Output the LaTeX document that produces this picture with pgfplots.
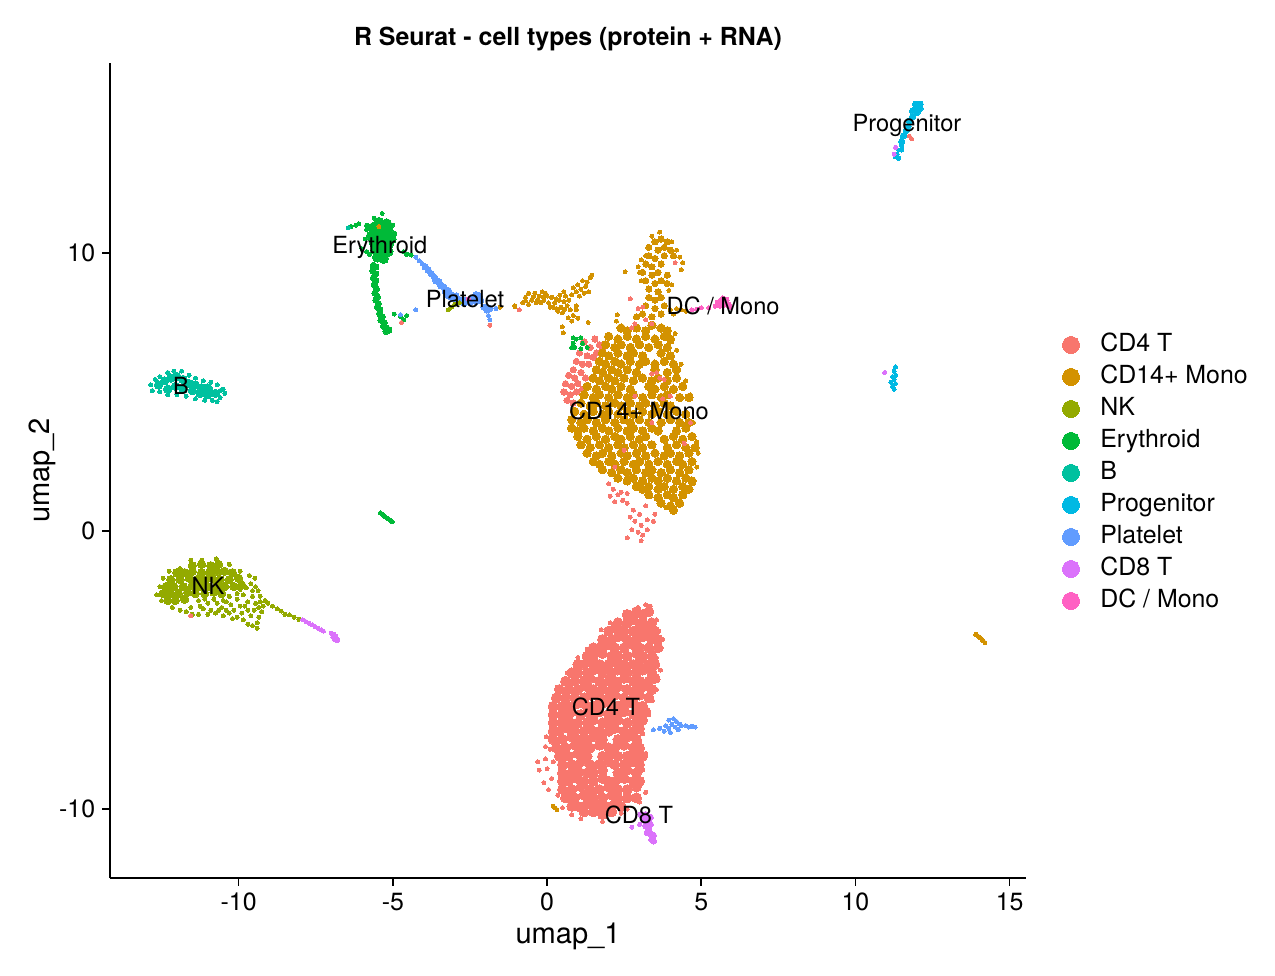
\documentclass[border=0pt]{standalone}
\usepackage{pgfplots}
\pgfplotsset{compat=1.18}
\usepackage{fontspec}
\setmainfont{TeX Gyre Heros}
\definecolor{cCDfour}{HTML}{F8766D}
\definecolor{cMono}{HTML}{D39200}
\definecolor{cNK}{HTML}{93AA00}
\definecolor{cEry}{HTML}{00BA38}
\definecolor{cB}{HTML}{00C19F}
\definecolor{cProg}{HTML}{00B9E3}
\definecolor{cPlat}{HTML}{619CFF}
\definecolor{cCDeight}{HTML}{DB72FB}
\definecolor{cDC}{HTML}{FF61C3}
\pgfplotsset{
  pt/.style={forget plot,only marks,color=#1,mark=*,mark size=0.96bp,mark options={solid,line width=0pt}},
  pm/.style={forget plot,only marks,color=#1,mark=*,mark size=1.5bp,mark options={solid,line width=0pt}},
  pk/.style={forget plot,only marks,color=#1,mark=*,mark size=2.0bp,mark options={solid,line width=0pt}},
  pl/.style={forget plot,only marks,color=#1,mark=*,mark size=2.4bp,mark options={solid,line width=0pt}},
  key/.style={only marks,color=#1,mark=*,mark size=4.08bp,mark options={solid,line width=0pt}},
}
\newcommand{\lab}[3]{\node[font=\fontsize{11.38}{13}\selectfont,anchor=center,inner sep=0pt] at (axis cs:#1,#2) {#3};}
\begin{document}
\begin{tikzpicture}
\useasboundingbox (0,0) rectangle (612bp,468bp);
\begin{axis}[
  at={(52.8bp,46.56bp)},anchor=south west,
  scale only axis,width=439.68bp,height=391.2bp,
  xmin=-14.17,xmax=15.53,ymin=-12.48,ymax=16.83,
  axis x line*=bottom,axis y line*=left,
  axis line style={-,black,line width=0.8bp},
  xtick={-10,-5,0,5,10,15},xticklabels={-10,-5,0,5,10,15},
  ytick={-10,0,10},yticklabels={-10,0,10},
  tick style={black,line width=0.8bp},tick align=outside,
  major tick length=3.6bp,
  ticklabel style={font=\fontsize{12}{14}\selectfont},
  xlabel={umap\_1},ylabel={umap\_2},
  xlabel style={font=\fontsize{14}{16}\selectfont,at={(axis description cs:0.5,-0.0712)},anchor=center},
  ylabel style={font=\fontsize{14}{16}\selectfont,at={(axis description cs:-0.0742,0.5)},anchor=center},
  title={R Seurat - cell types (protein + RNA)},
  title style={font=\fontsize{12}{14}\selectfont\bfseries,at={(axis description cs:0.5,1.0147)},anchor=center},
  clip=false,
  legend cell align=left,
  legend style={draw=none,fill=none,font=\fontsize{12}{14}\selectfont,
    at={(axis description cs:1.0394,0.6686)},anchor=north west,
    row sep=4.36bp,inner sep=0pt,
    /tikz/every odd column/.style={column sep=10bp},
    nodes={inner sep=0pt,text height=8.6bp,text depth=2.4bp}},
  after end axis/.code={
    \lab{11.67}{14.6}{Progenitor}
    \lab{-5.42}{10.2}{Erythroid}
    \lab{-2.66}{8.35}{Platelet}
    \lab{5.71}{8.09}{DC / Mono}
    \lab{2.98}{4.32}{CD14+ Mono}
    \lab{-11.87}{5.22}{B}
    \lab{-10.99}{-1.98}{NK}
    \lab{1.91}{-6.33}{CD4 T}
    \lab{2.98}{-10.22}{CD8 T}
  },
]
\addlegendimage{key=cCDfour}\addlegendentry{CD4 T}
\addlegendimage{key=cMono}\addlegendentry{CD14+ Mono}
\addlegendimage{key=cNK}\addlegendentry{NK}
\addlegendimage{key=cEry}\addlegendentry{Erythroid}
\addlegendimage{key=cB}\addlegendentry{B}
\addlegendimage{key=cProg}\addlegendentry{Progenitor}
\addlegendimage{key=cPlat}\addlegendentry{Platelet}
\addlegendimage{key=cCDeight}\addlegendentry{CD8 T}
\addlegendimage{key=cDC}\addlegendentry{DC / Mono}

% CD4 T main cloud
\addplot[pl=cCDfour] coordinates {
(2.6,-3.0)(2.9,-2.9)(3.1,-3.0)(3.3,-2.9)
(2.3,-3.3)(2.6,-3.3)(2.8,-3.2)(3.1,-3.3)(3.4,-3.3)
(2.0,-3.6)(2.2,-3.5)(2.5,-3.6)(2.8,-3.6)(3.0,-3.5)(3.3,-3.6)(3.5,-3.6)
(1.8,-3.9)(2.1,-3.9)(2.3,-3.8)(2.6,-3.9)(2.9,-3.9)(3.1,-3.8)(3.4,-3.9)(3.6,-3.9)
(1.5,-4.2)(1.7,-4.2)(2.0,-4.1)(2.2,-4.2)(2.5,-4.2)(2.8,-4.1)(3.0,-4.2)(3.3,-4.2)(3.6,-4.2)
(1.3,-4.5)(1.5,-4.5)(1.8,-4.4)(2.1,-4.5)(2.3,-4.5)(2.6,-4.5)(2.9,-4.4)(3.1,-4.5)(3.4,-4.5)
(1.0,-4.8)(1.2,-4.8)(1.4,-4.7)(1.7,-4.8)(2.0,-4.8)(2.2,-4.7)(2.5,-4.8)(2.8,-4.8)(3.0,-4.7)(3.3,-4.8)(3.5,-4.8)
(0.8,-5.1)(1.0,-5.1)(1.3,-5.1)(1.5,-5.0)(1.8,-5.1)(2.1,-5.1)(2.3,-5.0)(2.6,-5.1)(2.9,-5.1)(3.1,-5.0)(3.4,-5.1)
(0.6,-5.4)(0.9,-5.4)(1.2,-5.4)(1.4,-5.3)(1.7,-5.4)(2.0,-5.4)(2.2,-5.4)(2.5,-5.3)(2.8,-5.4)(3.0,-5.4)(3.3,-5.4)(3.5,-5.3)
(0.4,-5.7)(0.7,-5.7)(1.0,-5.7)(1.3,-5.6)(1.5,-5.7)(1.8,-5.7)(2.1,-5.7)(2.3,-5.6)(2.6,-5.7)(2.9,-5.7)(3.1,-5.6)(3.4,-5.7)
(0.3,-6.0)(0.6,-6.0)(0.9,-6.0)(1.2,-6.0)(1.4,-5.9)(1.7,-6.0)(2.0,-6.0)(2.2,-5.9)(2.5,-6.0)(2.8,-6.0)(3.0,-5.9)(3.3,-6.0)
(0.2,-6.3)(0.5,-6.3)(0.7,-6.3)(1.0,-6.2)(1.3,-6.3)(1.5,-6.3)(1.8,-6.2)(2.1,-6.3)(2.3,-6.3)(2.6,-6.2)(2.9,-6.3)(3.1,-6.3)
(0.2,-6.6)(0.5,-6.6)(0.8,-6.5)(1.1,-6.6)(1.4,-6.6)(1.7,-6.5)(2.0,-6.6)(2.2,-6.6)(2.5,-6.5)(2.8,-6.6)(3.0,-6.6)(3.2,-6.5)
(0.2,-6.9)(0.5,-6.9)(0.7,-6.8)(1.0,-6.9)(1.3,-6.9)(1.5,-6.8)(1.8,-6.9)(2.1,-6.9)(2.3,-6.8)(2.6,-6.9)(2.9,-6.9)(3.1,-6.8)
(0.2,-7.2)(0.4,-7.2)(0.7,-7.1)(0.9,-7.2)(1.2,-7.2)(1.4,-7.1)(1.7,-7.2)(2.0,-7.2)(2.2,-7.1)(2.5,-7.2)(2.8,-7.2)(3.0,-7.1)
(0.2,-7.5)(0.5,-7.5)(0.8,-7.4)(1.1,-7.5)(1.3,-7.5)(1.5,-7.4)(1.8,-7.5)(2.3,-7.5)(2.6,-7.4)(2.9,-7.5)
(0.3,-7.8)(0.6,-7.8)(0.9,-7.7)(1.2,-7.8)(1.4,-7.8)(1.7,-7.7)(2.0,-7.8)(2.2,-7.8)(2.5,-7.7)(2.8,-7.8)(3.0,-7.8)
(0.4,-8.1)(0.7,-8.1)(1.0,-8.0)(1.3,-8.1)(1.8,-8.1)(2.1,-8.0)(2.3,-8.1)(2.6,-8.1)(2.9,-8.0)(3.1,-8.1)
(0.5,-8.4)(0.8,-8.4)(1.1,-8.3)(1.4,-8.4)(1.7,-8.4)(2.0,-8.3)(2.2,-8.4)(2.5,-8.4)(2.8,-8.3)(3.0,-8.4)
(0.5,-8.7)(0.8,-8.7)(1.0,-8.6)(1.3,-8.7)(1.5,-8.7)(1.8,-8.6)(2.3,-8.7)(2.6,-8.6)(2.9,-8.7)
(0.5,-9.0)(0.7,-9.0)(1.0,-8.9)(1.2,-9.0)(1.5,-9.0)(1.8,-8.9)(2.0,-9.0)(2.2,-9.0)(2.5,-8.9)(2.8,-9.0)(3.0,-9.0)
(0.5,-9.3)(0.8,-9.3)(1.1,-9.2)(1.4,-9.3)(1.7,-9.3)(2.0,-9.2)(2.3,-9.3)(2.6,-9.3)(2.9,-9.2)
(0.6,-9.6)(0.9,-9.6)(1.2,-9.5)(1.5,-9.6)(1.8,-9.6)(2.1,-9.5)(2.3,-9.6)(2.6,-9.6)(2.9,-9.6)
(0.8,-9.9)(1.0,-9.9)(1.3,-9.8)(1.6,-9.9)(1.9,-9.9)(2.2,-9.8)(2.4,-9.9)
(1.2,-10.1)(1.5,-10.1)(1.8,-10.2)(2.1,-10.1)
};
\addplot[pt=cCDfour] coordinates {
(3.2,-2.65)(3.35,-2.7)(2.95,-2.75)(2.55,-3.05)(3.55,-3.2)(3.62,-3.6)(3.75,-3.9)(3.7,-4.2)(3.55,-4.55)(3.68,-5.0)(3.6,-5.35)(3.55,-5.7)(3.42,-6.1)(3.3,-6.6)(3.1,-7.3)(3.0,-7.6)(3.2,-8.0)(3.1,-8.6)(3.2,-9.4)(3.0,-9.75)(2.6,-10.0)(2.4,-10.15)(1.8,-10.45)(1.1,-10.35)(0.8,-10.2)(0.5,-9.95)(0.35,-9.5)(0.15,-8.9)
(-0.25,-8.6)(-0.3,-8.3)(0.0,-8.55)(-0.1,-9.05)(0.05,-9.3)(-0.05,-8.2)(0.2,-8.3)(0.1,-7.85)(-0.05,-7.75)(-0.02,-7.4)(1.3,-4.25)(1.0,-4.55)(0.65,-5.1)(2.05,-3.3)(1.75,-3.55)
};
% CD4 T cells beside and below the monocyte cloud
\addplot[pm=cCDfour] coordinates {
(1.2,6.8)(1.4,6.6)(1.55,6.9)(1.7,6.7)(1.05,6.4)(1.3,6.3)(1.5,6.25)(0.95,6.1)(1.15,6.0)(0.85,5.8)(0.7,5.6)(0.9,5.5)(1.1,5.7)(0.6,5.3)(0.8,5.2)(1.0,5.3)(0.55,5.0)(0.75,4.9)(0.95,5.0)(1.15,5.1)(0.65,4.7)(0.85,4.6)(1.25,5.5)(1.35,6.0)(1.6,6.4)(1.8,6.55)
};
\addplot[pt=cCDfour] coordinates {
(2.0,1.7)(2.15,1.5)(2.3,1.3)(2.45,1.1)(2.6,1.0)(2.4,1.4)(2.05,1.25)(2.2,1.05)(2.6,1.35)(2.8,0.75)(3.0,0.6)(3.2,0.9)(2.85,0.35)(3.05,0.2)(3.25,0.4)(3.45,0.35)(2.95,-0.05)(3.1,-0.15)(3.25,0.05)(2.75,0.05)(2.6,-0.25)(3.05,-0.35)(3.5,0.6)(2.7,0.5)
};
% CD14+ Mono main cloud
\addplot[pk=cMono] coordinates {
(2.4,7.3)(2.6,7.2)(2.9,7.3)(3.2,7.2)(3.4,7.4)(3.7,7.3)(3.9,7.2)
(2.0,7.0)(2.3,6.9)(2.6,7.0)(2.9,6.9)(3.2,7.0)(3.5,6.9)(3.8,7.0)(4.0,6.9)
(1.9,6.7)(2.2,6.6)(2.4,6.7)(2.7,6.6)(3.0,6.7)(3.3,6.6)(3.6,6.7)(3.9,6.6)
(1.8,6.4)(2.0,6.3)(2.3,6.4)(2.6,6.3)(2.8,6.4)(3.1,6.3)(3.7,6.4)(4.0,6.3)
(1.7,6.1)(1.9,6.0)(2.2,6.1)(2.4,6.0)(2.7,6.1)(3.0,6.0)(3.2,6.1)(3.5,6.0)(3.8,6.1)(4.1,6.0)
(1.6,5.8)(1.8,5.7)(2.1,5.8)(2.3,5.7)(2.6,5.8)(2.9,5.7)(3.5,5.8)(3.9,5.7)(4.2,5.8)
(1.5,5.5)(1.7,5.4)(2.0,5.5)(2.2,5.4)(2.5,5.5)(2.8,5.4)(3.1,5.5)(3.4,5.4)(3.6,5.5)(3.9,5.4)(4.2,5.5)
(1.3,5.2)(1.6,5.1)(1.9,5.2)(2.1,5.1)(2.4,5.2)(2.7,5.1)(3.3,5.2)(3.5,5.1)(3.8,5.2)(4.1,5.1)(4.4,5.2)
(1.2,4.9)(1.5,4.8)(1.7,4.9)(2.0,4.8)(2.3,4.9)(2.6,4.8)(2.8,4.9)(3.1,4.8)(3.4,4.9)(3.7,4.8)(3.9,4.9)(4.3,4.8)(4.6,4.8)
(1.1,4.6)(1.4,4.5)(1.6,4.6)(1.9,4.5)(2.2,4.6)(2.4,4.5)(2.7,4.6)(3.0,4.5)(3.2,4.6)(3.5,4.5)(3.8,4.6)(4.0,4.5)
(0.9,4.3)(1.2,4.2)(1.5,4.3)(1.8,4.2)(2.0,4.3)(2.3,4.2)(2.6,4.3)(2.8,4.2)(3.1,4.3)(3.4,4.2)(3.6,4.3)(3.9,4.2)(4.2,4.3)(4.5,4.2)
(0.8,4.0)(1.1,3.9)(1.3,4.0)(1.6,3.9)(1.9,4.0)(2.2,3.9)(2.5,4.0)(2.7,3.9)(3.0,4.0)(3.3,3.9)(3.7,3.9)(4.0,4.0)(4.3,3.9)(4.6,3.9)
(0.8,3.7)(1.0,3.6)(1.2,3.7)(1.5,3.6)(1.8,3.7)(2.0,3.6)(2.3,3.7)(2.6,3.6)(2.8,3.7)(3.1,3.6)(3.4,3.7)(3.6,3.6)(4.2,3.6)(4.5,3.7)
(1.0,3.4)(1.3,3.3)(1.6,3.4)(1.9,3.3)(2.2,3.4)(2.4,3.3)(2.7,3.4)(3.0,3.3)(3.2,3.4)(3.8,3.3)(4.1,3.4)(4.4,3.3)(4.7,3.4)
(1.1,3.1)(1.4,3.0)(1.7,3.1)(2.0,3.0)(2.3,3.1)(2.5,3.0)(2.8,3.1)(3.1,3.0)(3.4,3.1)(3.9,3.0)(4.2,3.1)(4.5,3.0)(4.8,3.0)
(1.3,2.8)(1.6,2.7)(1.8,2.8)(2.1,2.7)(2.4,2.8)(2.6,2.7)(2.9,2.8)(3.2,2.7)(3.5,2.8)(3.8,2.7)(4.0,2.8)(4.3,2.7)(4.6,2.8)
(1.5,2.5)(1.7,2.4)(2.0,2.5)(2.2,2.4)(2.5,2.5)(2.8,2.4)(3.0,2.5)(3.3,2.4)(3.6,2.5)(3.9,2.4)(4.2,2.5)(4.4,2.4)(4.7,2.5)
(1.8,2.2)(2.1,2.1)(2.4,2.2)(2.6,2.1)(2.9,2.2)(3.2,2.1)(3.4,2.2)(3.7,2.1)(4.0,2.2)(4.3,2.1)(4.6,2.2)
(2.3,1.9)(2.6,1.8)(2.8,1.9)(3.1,1.8)(3.4,1.9)(3.6,1.8)(3.9,1.9)(4.2,1.8)(4.5,1.9)(4.7,1.8)
(2.9,1.6)(3.1,1.5)(3.3,1.6)(3.6,1.5)(3.8,1.6)(4.1,1.5)(4.4,1.6)(4.6,1.5)
(3.3,1.3)(3.6,1.2)(3.9,1.3)(4.1,1.2)(4.4,1.3)
(3.7,1.0)(4.0,0.9)(4.3,1.0)
(4.1,0.75)
};
% CD14+ Mono upper lobe
\addplot[pm=cMono] coordinates {
(3.5,10.4)(3.7,10.5)(3.9,10.4)
(3.3,10.2)(3.6,10.1)(3.8,10.2)(4.0,10.1)
(3.3,9.9)(3.5,9.8)(3.8,9.9)(4.1,9.9)
(3.2,9.6)(3.4,9.5)(3.7,9.6)
(3.1,9.3)(3.4,9.2)(3.6,9.3)(3.9,9.2)
(3.2,9.0)(3.5,8.9)(3.7,9.0)(3.9,8.9)
(3.3,8.7)(3.6,8.6)
(3.3,8.4)(3.5,8.3)(3.7,8.4)
(3.2,8.1)(3.5,8.0)(3.8,8.1)
(3.1,7.8)(3.4,7.7)(3.7,7.8)(2.9,7.7)
};
\addplot[pt=cMono] coordinates {
(3.65,10.75)(3.4,10.6)(4.05,10.4)(4.2,10.1)(4.3,9.85)(4.4,9.65)(4.35,9.4)(3.2,9.9)(3.05,9.75)(2.95,9.5)(3.0,9.3)(3.05,9.0)(4.05,8.85)(3.95,8.65)(4.2,8.0)(4.35,7.95)(4.5,7.9)(4.1,7.8)(4.0,7.95)
(4.65,4.9)(4.5,5.4)(4.35,6.0)(4.2,6.5)(4.05,6.8)(4.15,7.1)(2.25,7.55)(4.75,3.9)(4.85,3.2)(4.9,2.8)(4.85,2.3)(4.75,1.7)(3.85,0.85)
% left branch
(-1.04,8.06)(-0.78,8.2)(-0.7,8.4)(-0.6,8.55)(-0.5,8.3)(-0.4,8.55)(-0.35,8.2)(-0.25,8.45)(-0.15,8.6)(-0.1,8.3)(0.0,8.45)(0.05,8.2)(0.1,8.05)(-0.6,8.15)(-0.2,8.2)(-0.05,8.55)(-0.45,8.42)(-0.3,8.32)(-0.12,8.42)(-0.7,8.28)
(0.15,8.4)(0.25,8.2)(0.3,8.0)(0.4,8.3)(0.45,8.05)(0.5,7.85)(0.55,8.25)(0.6,8.45)(0.65,8.1)(0.7,8.3)(0.75,7.95)(0.35,7.9)(0.8,8.5)(0.55,8.6)(0.2,8.05)(0.42,8.48)(0.58,7.98)(0.3,8.35)
(0.85,8.75)(0.95,8.6)(1.0,8.85)(1.1,8.7)(1.15,9.0)(1.25,8.8)(1.3,8.95)(1.4,9.1)(1.45,9.2)(1.35,8.6)(1.2,8.55)(1.05,8.45)
(2.53,9.32)(2.27,7.77)(1.33,7.5)(0.52,7.12)(0.49,7.34)(0.68,7.66)(0.95,7.95)(0.85,7.75)(0.8,7.55)(1.0,7.65)(0.95,8.1)
};
% CD4 T and erythroid cells lying over the monocytes
\addplot[pt=cCDfour] coordinates {
(3.4,7.45)(3.2,7.6)(2.75,7.3)(2.85,7.45)(2.7,8.35)(2.95,8.0)(3.1,8.05)(4.15,9.65)(3.55,5.7)(3.65,5.5)(3.4,5.65)(3.8,5.45)(2.85,4.85)(3.75,4.75)(4.0,4.85)(4.65,3.9)(4.45,3.15)(3.4,3.9)(2.2,2.3)(2.5,2.9)
};
\addplot[pt=cEry] coordinates {
(0.85,6.95)(0.95,6.9)(1.1,6.95)(1.15,6.75)(0.8,6.6)(0.9,6.6)(1.1,6.55)(1.3,6.6)(0.85,6.75)
};
% NK
\addplot[pk=cNK] coordinates {
(-11.5,-1.25)(-11.2,-1.2)(-10.9,-1.25)(-10.65,-1.2)
(-12.0,-1.5)(-11.75,-1.5)(-11.5,-1.45)(-11.2,-1.5)(-10.95,-1.5)(-10.7,-1.45)(-10.45,-1.45)(-10.2,-1.5)
(-12.2,-1.75)(-11.9,-1.75)(-11.6,-1.7)(-11.35,-1.75)(-11.1,-1.75)(-10.85,-1.7)(-10.6,-1.75)(-10.3,-1.75)(-10.0,-1.7)
(-12.35,-2.0)(-12.1,-2.0)(-11.8,-2.0)(-11.5,-1.95)(-11.25,-2.0)(-11.0,-2.0)(-10.7,-1.95)(-10.45,-2.0)(-10.15,-2.0)(-9.9,-1.95)
(-12.45,-2.25)(-12.2,-2.25)(-11.95,-2.25)(-11.65,-2.2)(-11.4,-2.25)(-11.1,-2.25)(-10.8,-2.2)(-10.55,-2.25)
(-12.3,-2.5)(-12.05,-2.5)(-11.75,-2.45)
};
\addplot[pt=cNK] coordinates {
(-12.65,-2.3)(-12.55,-2.0)(-12.45,-1.7)(-12.25,-1.45)(-11.9,-1.35)(-11.55,-1.05)(-11.2,-1.05)(-10.73,-1.0)(-10.3,-1.2)(-9.95,-1.45)(-9.65,-1.6)(-9.47,-1.7)(-9.6,-1.9)(-9.45,-2.0)(-9.37,-2.15)(-9.3,-2.35)(-9.14,-2.5)(-9.2,-2.7)(-9.25,-2.9)(-9.35,-3.1)(-9.4,-3.3)(-9.4,-3.5)(-9.55,-3.4)(-9.7,-3.35)(-9.85,-3.2)(-10.05,-3.1)(-10.2,-3.15)(-10.5,-3.05)(-10.4,-2.85)(-10.75,-2.95)(-11.0,-3.0)(-11.3,-3.0)(-11.5,-3.0)(-11.7,-2.9)(-11.9,-2.85)(-12.15,-2.75)(-12.5,-2.5)
(-11.55,-2.75)(-11.25,-2.7)(-11.0,-2.6)(-10.9,-2.85)(-10.7,-2.6)(-10.5,-2.5)(-10.55,-2.75)(-10.3,-2.35)(-10.25,-2.65)(-10.15,-2.85)(-10.05,-2.45)(-9.95,-2.7)(-9.9,-2.95)(-9.85,-2.3)(-9.7,-2.55)(-9.7,-2.85)(-9.6,-3.05)(-9.55,-2.35)(-9.45,-2.6)(-9.5,-2.85)(-9.75,-2.05)(-9.95,-2.1)
(-11.3,-2.5)(-11.1,-2.45)(-11.15,-2.8)(-10.8,-2.45)(-10.3,-2.95)(-10.05,-2.25)(-9.8,-2.7)(-9.55,-2.15)(-9.35,-2.75)(-9.3,-2.55)(-10.65,-2.85)(-10.4,-2.55)
(-9.05,-2.6)(-8.9,-2.7)(-8.75,-2.8)(-8.62,-2.88)(-8.5,-3.0)(-8.35,-3.02)(-8.2,-3.1)(-8.05,-3.18)
};
\addplot[pt=cCDfour] coordinates {(-11.55,-3.05)};
% CD8 T tail
\addplot[pt=cCDeight] coordinates {
(-7.92,-3.2)(-7.82,-3.26)(-7.72,-3.32)(-7.62,-3.38)(-7.52,-3.44)(-7.42,-3.5)(-7.32,-3.55)(-7.25,-3.6)(-7.0,-3.68)(-6.92,-3.72)(-6.95,-3.82)(-6.85,-3.78)(-6.8,-3.88)(-6.9,-3.9)(-6.8,-3.95)
};
% B
\addplot[pk=cB] coordinates {
(-12.6,5.25)(-12.4,5.4)(-12.2,5.5)(-12.0,5.55)(-11.8,5.45)(-11.6,5.3)(-11.4,5.25)(-11.2,5.15)(-11.0,5.15)
(-12.3,5.1)(-12.05,5.2)(-11.8,5.1)(-11.5,5.05)(-11.25,4.95)(-11.0,4.9)(-10.75,4.95)
};
\addplot[pt=cB] coordinates {
(-12.85,5.25)(-12.8,5.05)(-12.7,5.45)(-12.55,5.55)(-12.3,5.7)(-12.1,5.75)(-11.85,5.75)(-11.6,5.6)(-11.4,5.5)(-11.15,5.4)(-10.9,5.35)(-10.7,5.25)(-10.5,5.1)(-10.45,4.95)(-10.6,4.8)(-10.7,4.65)(-10.85,4.7)(-11.1,4.7)(-11.4,4.75)(-11.7,4.85)(-12.0,4.9)(-12.3,4.9)(-12.55,5.0)(-10.6,5.05)(-10.9,5.1)
};
% Erythroid
\addplot[pl=cEry] coordinates {
(-5.45,11.1)(-5.2,11.05)(-5.65,10.9)(-5.4,10.85)(-5.15,10.8)(-5.7,10.6)(-5.45,10.6)(-5.2,10.6)(-5.05,10.5)(-5.6,10.35)(-5.35,10.35)(-5.15,10.3)(-5.55,10.1)(-5.3,10.1)(-5.15,10.05)(-5.5,9.85)(-5.3,9.8)
};
\addplot[pt=cEry] coordinates {
(-5.35,11.42)(-5.6,11.25)(-5.85,10.85)(-5.9,10.5)(-5.0,11.0)(-4.93,10.7)
(-6.35,10.95)(-6.2,11.0)(-6.1,11.05)(-5.85,11.0)(-6.0,10.15)(-5.85,10.05)(-5.75,9.95)(-4.65,10.05)(-4.55,9.95)(-4.4,9.92)
(-4.95,7.8)(-4.75,7.7)(-4.65,7.6)(-4.55,7.75)
};
\addplot[pm=cEry] coordinates {
(-5.63,9.55)(-5.55,9.5)(-5.65,9.35)(-5.55,9.25)(-5.63,9.1)(-5.55,9.0)(-5.6,8.85)(-5.53,8.7)(-5.58,8.55)(-5.5,8.42)(-5.55,8.3)(-5.47,8.18)(-5.5,8.05)(-5.42,7.95)(-5.43,7.82)(-5.35,7.7)(-5.38,7.58)(-5.28,7.48)(-5.3,7.36)(-5.2,7.3)(-5.22,7.18)(-5.13,7.22)
};
\addplot[pt=cEry] coordinates {
(-5.4,0.65)(-5.35,0.6)(-5.3,0.56)(-5.25,0.52)(-5.2,0.47)(-5.15,0.43)(-5.1,0.4)(-5.05,0.36)(-5.02,0.33)
};
\addplot[pt=cB] coordinates {(-6.45,10.9)};
\addplot[pt=cMono] coordinates {(-5.45,10.95)};
% Platelet
\addplot[pm=cPlat] coordinates {
(-3.95,9.5)(-3.85,9.38)(-3.75,9.25)(-3.65,9.12)(-3.6,9.0)(-3.5,8.95)(-3.45,8.82)(-3.35,8.78)(-3.3,8.62)(-3.2,8.65)(-3.2,8.45)(-3.1,8.5)(-3.05,8.35)(-2.95,8.45)(-2.9,8.25)(-2.8,8.3)(-2.7,8.2)(-2.6,8.3)(-2.5,8.22)(-2.4,8.4)(-2.3,8.5)(-2.2,8.45)(-2.15,8.3)(-2.3,8.25)(-2.05,8.05)(-1.95,7.95)(-1.85,8.0)
};
\addplot[pt=cPlat] coordinates {
(-4.25,9.85)(-4.15,9.72)(-4.05,9.62)(-1.9,7.75)(-1.85,7.6)(-1.65,8.0)(-4.75,7.78)(-4.25,7.95)
};
\addplot[pt=cNK] coordinates {(-3.2,7.95)(-3.1,8.05)(-3.0,8.15)(-2.85,8.2)};
\addplot[pt=cMono] coordinates {(-1.52,8.05)(-1.05,8.1)};
\addplot[pt=cCDfour] coordinates {(-4.72,7.5)(-1.85,7.4)(-0.9,7.95)};
\addplot[pt=cDC] coordinates {(-2.55,8.35)};
% Platelet next to CD4 T
\addplot[pt=cPlat] coordinates {
(3.45,-7.15)(3.65,-7.1)(3.8,-7.2)(3.85,-7.0)(3.95,-6.8)(3.95,-7.1)(4.0,-7.25)(4.05,-6.95)(4.1,-6.75)(4.15,-7.05)(4.2,-6.85)(4.25,-7.15)(4.3,-6.95)(4.35,-7.0)(4.5,-7.0)(4.6,-7.05)(4.7,-7.02)(4.8,-7.05)
};
% CD8 T by the CD4 T cloud
\addplot[pm=cCDeight] coordinates {
(3.05,-10.2)(3.2,-10.2)(3.35,-10.3)(3.15,-10.4)(3.3,-10.45)(3.2,-10.6)(3.35,-10.55)(3.3,-10.7)(3.25,-10.85)(3.35,-10.9)(3.45,-10.95)(3.4,-11.1)(3.45,-11.15)
};
\addplot[pt=cCDeight] coordinates {(2.75,-10.65)(3.0,-10.55)};
% Progenitor
\addplot[pm=cProg] coordinates {
(12.1,15.35)(11.95,15.35)(12.1,15.2)(11.95,15.2)(11.85,15.1)(12.0,15.05)(11.85,14.9)(11.75,14.75)(11.7,14.55)(11.65,14.4)(11.55,14.2)(11.5,14.0)
};
\addplot[pt=cProg] coordinates {
(11.6,14.25)(11.5,13.85)(11.5,13.7)(11.4,13.7)(11.35,13.55)(11.3,13.45)(11.4,13.4)
(11.15,5.35)(11.2,5.2)(11.25,5.1)(11.3,5.3)(11.25,5.45)(11.3,5.6)(11.25,5.75)(11.3,5.9)(11.2,5.55)
};
\addplot[pt=cCDfour] coordinates {(11.75,14.2)(11.82,14.1)};
\addplot[pt=cCDeight] coordinates {(11.3,13.8)(11.25,13.55)(10.95,5.7)};
% DC / Mono
\addplot[pm=cDC] coordinates {
(5.55,8.2)(5.65,8.28)(5.72,8.15)(5.8,8.3)(5.88,8.12)(5.6,8.12)
};
\addplot[pt=cDC] coordinates {
(4.7,7.95)(4.85,7.98)(5.0,8.02)(5.25,8.02)(5.45,8.08)(5.95,8.05)(5.7,8.38)
};
% small monocyte group at the right
\addplot[pt=cMono] coordinates {
(13.9,-3.72)(13.95,-3.76)(14.0,-3.8)(14.05,-3.85)(14.1,-3.9)(14.15,-3.96)(14.2,-4.02)
};
\addplot[pt=cMono] coordinates {(0.25,-9.95)(0.32,-10.02)(0.2,-9.9)};
\end{axis}
\end{tikzpicture}
\end{document}
